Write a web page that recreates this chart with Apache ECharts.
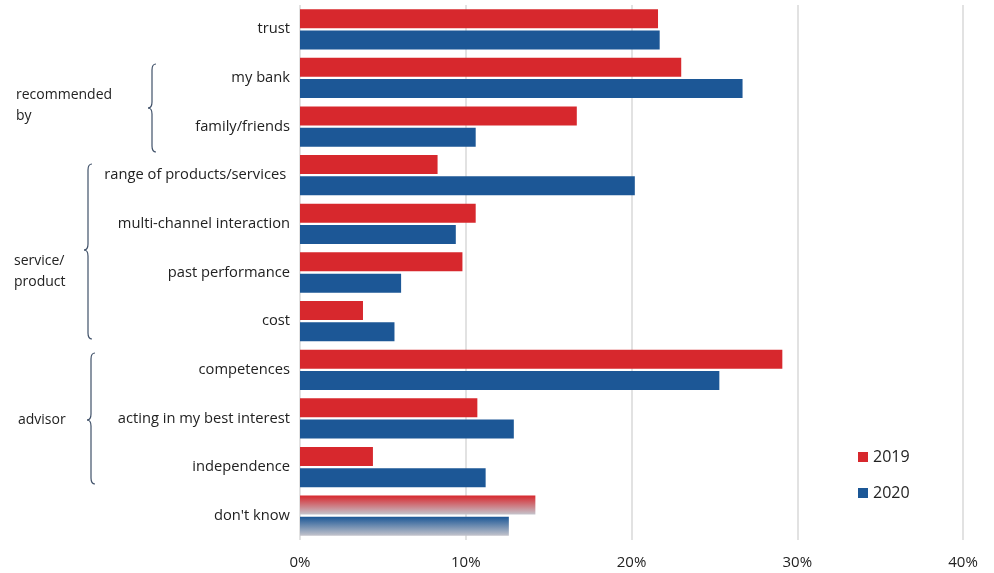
<!DOCTYPE html>
<html>
<head>
<meta charset="utf-8">
<script src="https://cdn.jsdelivr.net/npm/echarts@6/dist/echarts.min.js"></script>
<style>
  html, body { margin: 0; padding: 0; background: #fff; }
  #main { width: 994px; height: 573px; }
</style>
</head>
<body>
<div id="main"></div>
<script>
// data
const categories = ['trust', 'my bank', 'family/friends', 'range of products/services ',
  'multi-channel interaction', 'past performance', 'cost', 'competences',
  'acting in my best interest', 'independence', "don't know"];
const values2019 = [21.6, 23.0, 16.7, 8.3, 10.6, 9.8, 3.8, 29.1, 10.7, 4.4, 14.2];
const values2020 = [21.7, 26.7, 10.6, 20.2, 9.4, 6.1, 5.7, 25.3, 12.9, 11.2, 12.6];
const xTicks = [0, 10, 20, 30, 40];

const red = '#d7282d', blue = '#1c5796', grey = '#c4c4cc';
const font = 'Open Sans';

const myChart = echarts.init(document.getElementById('main'));

// last category ("don't know") fades to grey
function withFade(vals, color) {
  return vals.map((v, i) => i < vals.length - 1 ? v : {
    value: v,
    itemStyle: {
      color: {
        type: 'linear', x: 0, y: 0, x2: 0, y2: 1,
        colorStops: [{ offset: 0, color: color }, { offset: 1, color: grey }]
      }
    }
  });
}

// curly brace pointing left: x = right edge, y1..y2, tip at ym
function brace(x, y1, y2, ym) {
  const w = 8, m = x - w / 2, r = 6;
  const st = { fill: null, stroke: '#3f5068', lineWidth: 1.2 };
  const curve = (x1, yy1, cx, cy, x2, yy2) => ({
    type: 'bezierCurve', shape: { x1: x1, y1: yy1, cpx1: cx, cpy1: cy, x2: x2, y2: yy2 }, style: st
  });
  const line = (yy1, yy2) => ({
    type: 'line', shape: { x1: m, y1: yy1, x2: m, y2: yy2 }, style: st
  });
  return {
    type: 'group',
    children: [
      curve(x, y1, m, y1, m, y1 + r),
      line(y1 + r, ym - r),
      curve(m, ym - r, m, ym, x - w, ym),
      curve(x - w, ym, m, ym, m, ym + r),
      line(ym + r, y2 - r),
      curve(m, y2 - r, m, y2, x, y2)
    ]
  };
}

function groupLabel(x, y, text) {
  return {
    type: 'text', left: x, top: y,
    style: { text: text, font: '14px "' + font + '"', fill: '#222', lineHeight: 21 }
  };
}

const option = {
  animation: false,
  textStyle: { fontFamily: font },
  grid: { left: 300, right: 31, top: 5, bottom: 33 },
  legend: {
    orient: 'vertical', left: 853, top: 444,
    itemWidth: 10, itemHeight: 10, itemGap: 20,
    icon: 'rect',
    textStyle: { fontSize: 16, color: '#222', fontFamily: font },
    data: ['2019', '2020']
  },
  xAxis: {
    type: 'value', min: 0, max: 40, interval: 10,
    axisLine: { show: false }, axisTick: { show: false },
    splitLine: { lineStyle: { color: '#d8d8d8', width: 1.5 } },
    axisLabel: {
      margin: 15, fontSize: 15, color: '#222',
      formatter: v => xTicks.includes(v) ? v + '%' : ''
    }
  },
  yAxis: {
    type: 'category', inverse: true, data: categories,
    axisLine: { show: false }, axisTick: { show: false },
    axisLabel: { fontSize: 14.7, color: '#222', margin: 10 }
  },
  series: [
    { name: '2019', type: 'bar', data: withFade(values2019, red), itemStyle: { color: red },
      barWidth: 19, barGap: '12%', barCategoryGap: '18%' },
    { name: '2020', type: 'bar', data: withFade(values2020, blue), itemStyle: { color: blue },
      barWidth: 19 }
  ],
  graphic: [
    brace(156, 64, 152, 108),
    brace(92, 164, 339, 250),
    brace(95, 353, 484, 420),
    groupLabel(16, 85, 'recommended\nby'),
    groupLabel(14, 251, 'service/\nproduct'),
    groupLabel(18, 410, 'advisor')
  ]
};

myChart.setOption(option);
</script>
</body>
</html>
